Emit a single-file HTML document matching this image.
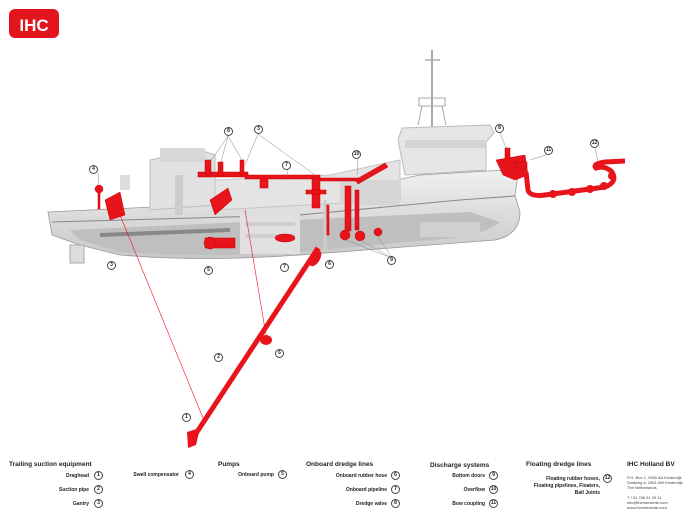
<!DOCTYPE html>
<html><head><meta charset="utf-8"><style>
html,body{margin:0;padding:0;background:#fff;}
body{width:700px;height:525px;position:relative;overflow:hidden;font-family:"Liberation Sans",sans-serif;}
.t{position:absolute;font-size:5px;color:#222;font-weight:bold;white-space:nowrap;text-align:right}
.h{position:absolute;font-size:6.5px;font-weight:bold;color:#222;white-space:nowrap}
.n{position:absolute;width:7px;height:7px;border:1px solid #444;border-radius:50%;font-size:5px;text-align:center;line-height:7px;font-weight:bold;color:#222;background:#fff}
.s{position:absolute;font-size:4px;color:#444;line-height:5px}
</style></head><body>
<svg width="700" height="525" style="position:absolute;left:0;top:0">
<defs>
<linearGradient id="hull" x1="0" y1="0" x2="0" y2="1"><stop offset="0" stop-color="#f0f0f0"/><stop offset="1" stop-color="#c8c8c8"/></linearGradient>
</defs>
<rect x="9" y="9" width="50" height="29" rx="6" fill="#e3141c"/>
<text x="34" y="31" font-family="Liberation Sans" font-weight="bold" font-size="17" fill="#fff" text-anchor="middle">IHC</text>
<line x1="432" y1="50" x2="432" y2="128" stroke="#aaa" stroke-width="2"/>
<line x1="425" y1="60" x2="440" y2="60" stroke="#aaa" stroke-width="1.5"/>
<rect x="419" y="98" width="26" height="8" fill="none" stroke="#aaa"/>
<line x1="422" y1="106" x2="418" y2="125" stroke="#aaa"/><line x1="442" y1="106" x2="446" y2="125" stroke="#aaa"/>
<polygon points="402,128 490,125 494,133 486,142 486,170 405,175 398,140" fill="#e6e6e6" stroke="#bbb"/>
<rect x="405" y="140" width="80" height="8" fill="#d4d4d4"/>
<path d="M48,212 L300,200 L420,175 L505,170 L518,175 L515,195 L520,212 Q520,235 495,240 L300,255 Q200,262 120,255 L80,245 L52,235 Z" fill="url(#hull)" stroke="#999" stroke-width="0.8"/>
<path d="M52,222 L300,215 L460,200 L515,196" stroke="#888" stroke-width="1" fill="none"/>
<path d="M70,230 L470,212 L500,222 Q480,238 430,240 L300,252 Q200,258 120,252 L80,240 Z" fill="#bfbfbf"/>
<rect x="240" y="214" width="60" height="40" fill="#e0e0e0"/>
<rect x="245" y="222" width="50" height="4" fill="#cfcfcf"/><rect x="245" y="234" width="50" height="4" fill="#cfcfcf"/>
<path d="M100,235 L230,230" stroke="#888" stroke-width="4"/>
<rect x="420" y="222" width="60" height="15" fill="#d0d0d0"/>
<polygon points="150,160 200,150 215,155 215,205 150,210" fill="#e2e2e2" stroke="#bbb"/>
<rect x="160" y="148" width="45" height="14" fill="#d8d8d8"/>
<rect x="175" y="175" width="8" height="40" fill="#ccc"/>
<polygon points="215,180 330,175 400,160 400,200 215,210" fill="#e4e4e4" stroke="#c4c4c4"/>
<rect x="340" y="180" width="60" height="25" fill="#d6d6d6"/>
<rect x="120" y="175" width="10" height="15" fill="#ddd"/>
<g fill="#e8141c" stroke="#c00" stroke-width="0.5">
<circle cx="99" cy="189" r="4"/><rect x="98" y="189" width="2" height="20"/>
<polygon points="105,200 120,192 125,215 110,220"/>
<polygon points="210,200 228,188 232,200 215,215"/>
<rect x="198" y="172" width="50" height="5"/><rect x="205" y="160" width="6" height="14"/><rect x="218" y="162" width="5" height="14"/><rect x="240" y="160" width="4" height="14"/>
<rect x="245" y="175" width="75" height="4"/>
<rect x="260" y="178" width="8" height="10"/>
<rect x="312" y="178" width="8" height="30"/><rect x="306" y="190" width="20" height="4"/>
<rect x="320" y="178" width="40" height="3"/>
<polygon points="355,180 385,163 388,167 358,184"/>
<rect x="345" y="186" width="6" height="45"/><rect x="355" y="190" width="4" height="40"/>
<circle cx="345" cy="235" r="5"/><circle cx="360" cy="236" r="5"/><circle cx="378" cy="232" r="4"/>
<rect x="324" y="205" width="5" height="30"/>
<rect x="205" y="238" width="30" height="10"/><circle cx="210" cy="243" r="6"/>
<ellipse cx="285" cy="238" rx="10" ry="4"/>
<rect x="505" y="148" width="5" height="18"/>
<polygon points="496,160 525,155 528,175 515,180 503,175"/>
<rect x="515" y="162" width="12" height="6"/>
</g>
<line x1="318" y1="248" x2="193" y2="438" stroke="#e8141c" stroke-width="5"/>
<ellipse cx="315" cy="258" rx="5" ry="9" fill="#e8141c" transform="rotate(30 315 258)"/>
<ellipse cx="266" cy="340" rx="6" ry="5" fill="#e8141c"/>
<polygon points="187,432 200,428 196,445 188,448" fill="#e8141c"/>
<line x1="325" y1="200" x2="325" y2="250" stroke="#ccc" stroke-width="3"/>
<line x1="120" y1="215" x2="203" y2="418" stroke="#e8141c" stroke-width="0.6"/>
<line x1="245" y1="210" x2="266" y2="335" stroke="#e8141c" stroke-width="0.6"/>
<path d="M526,172 L528,190 Q530,197 545,195 L605,187 Q618,182 612,172 Q605,165 596,168 Q592,164 605,162 L625,161" stroke="#e8141c" stroke-width="5" fill="none"/>
<g fill="#e8141c"><ellipse cx="553" cy="194" rx="4" ry="4"/><ellipse cx="572" cy="192" rx="4" ry="4"/><ellipse cx="590" cy="189" rx="4" ry="4"/><ellipse cx="604" cy="186" rx="4" ry="4"/><ellipse cx="612" cy="176" rx="4" ry="4"/></g>
<rect x="70" y="245" width="14" height="18" fill="#ddd" stroke="#aaa"/>
<g stroke="#888" stroke-width="0.5">
<line x1="228" y1="136" x2="210" y2="162"/><line x1="228" y1="136" x2="221" y2="162"/><line x1="228" y1="136" x2="242" y2="160"/>
<line x1="258" y1="134" x2="245" y2="165"/><line x1="258" y1="134" x2="315" y2="175"/>
<line x1="98" y1="173" x2="99" y2="185"/><line x1="500" y1="133" x2="506" y2="148"/>
<line x1="549" y1="154" x2="530" y2="160"/><line x1="595" y1="148" x2="598" y2="162"/>
<line x1="392" y1="258" x2="360" y2="240"/><line x1="392" y1="258" x2="378" y2="236"/><line x1="392" y1="258" x2="346" y2="240"/>
<line x1="358" y1="159" x2="357" y2="175"/><line x1="287" y1="170" x2="288" y2="177"/>
</g>
</svg>
<div class="n" style="left:224px;top:127px">8</div>
<div class="n" style="left:254px;top:125px">3</div>
<div class="n" style="left:89px;top:165px">4</div>
<div class="n" style="left:282px;top:161px">7</div>
<div class="n" style="left:352px;top:150px">10</div>
<div class="n" style="left:495px;top:124px">8</div>
<div class="n" style="left:544px;top:146px">11</div>
<div class="n" style="left:590px;top:139px">12</div>
<div class="n" style="left:107px;top:261px">3</div>
<div class="n" style="left:204px;top:266px">5</div>
<div class="n" style="left:280px;top:263px">7</div>
<div class="n" style="left:325px;top:260px">6</div>
<div class="n" style="left:387px;top:256px">9</div>
<div class="n" style="left:275px;top:349px">6</div>
<div class="n" style="left:214px;top:353px">2</div>
<div class="n" style="left:182px;top:413px">1</div>

<div class="h" style="left:9px;top:461px">Trailing suction equipment</div>
<div class="t" style="right:611px;top:473px">Draghead</div><div class="n" style="left:94px;top:471px">1</div>
<div class="t" style="right:611px;top:487px">Suction pipe</div><div class="n" style="left:94px;top:485px">2</div>
<div class="t" style="right:611px;top:501px">Gantry</div><div class="n" style="left:94px;top:499px">3</div>
<div class="t" style="right:521px;top:472px">Swell compensator</div><div class="n" style="left:185px;top:470px">4</div>
<div class="h" style="left:218px;top:461px">Pumps</div>
<div class="t" style="right:426px;top:472px">Onboard pump</div><div class="n" style="left:278px;top:470px">5</div>
<div class="h" style="left:306px;top:461px">Onboard dredge lines</div>
<div class="t" style="right:313px;top:473px">Onboard rubber hose</div><div class="n" style="left:391px;top:471px">6</div>
<div class="t" style="right:313px;top:487px">Onboard pipeline</div><div class="n" style="left:391px;top:485px">7</div>
<div class="t" style="right:313px;top:501px">Dredge valve</div><div class="n" style="left:391px;top:499px">8</div>
<div class="h" style="left:430px;top:462px">Discharge systems</div>
<div class="t" style="right:215px;top:473px">Bottom doors</div><div class="n" style="left:489px;top:471px">9</div>
<div class="t" style="right:215px;top:487px">Overflow</div><div class="n" style="left:489px;top:485px">10</div>
<div class="t" style="right:215px;top:501px">Bow coupling</div><div class="n" style="left:489px;top:499px">11</div>
<div class="h" style="left:526px;top:461px">Floating dredge lines</div>
<div class="t" style="right:100px;top:476px;line-height:7px">Floating rubber hoses,<br>Floating pipelines, Floaters,<br>Ball Joints</div><div class="n" style="left:603px;top:474px">12</div>
<div class="h" style="left:627px;top:461px">IHC Holland BV</div>
<div class="s" style="left:627px;top:475px">P.O. Box 1, 2960 AA Kinderdijk<br>Smitweg 6, 2961 AW Kinderdijk<br>The Netherlands<br><br>T +31 786 91 09 11<br>info@ihcmerwede.com<br>www.ihcmerwede.com</div>
</body></html>
